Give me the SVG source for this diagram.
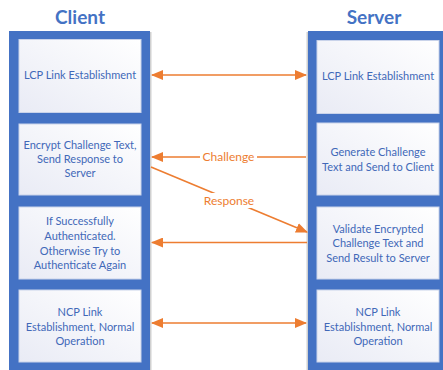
<svg xmlns="http://www.w3.org/2000/svg" width="443" height="370" viewBox="0 0 443 370">
<defs>
<linearGradient id="g" x1="1" y1="0" x2="0" y2="1">
<stop offset="0" stop-color="#FFFFFF"/>
<stop offset="1" stop-color="#E9EBF5"/>
</linearGradient>
<marker id="ah" viewBox="0 0 12 10" refX="11" refY="5" markerWidth="12" markerHeight="10" markerUnits="userSpaceOnUse" orient="auto-start-reverse">
<path d="M0,0 L12,5 L0,10 z" fill="#ED7D31"/>
</marker>
<style>
.col{fill:#4472C4}
.shadow{fill:#D0D0D0}
.box{fill:url(#g);stroke:#C9D3EA;stroke-width:1}
.t{font-family:Lato,"Liberation Sans",sans-serif;font-size:11px;fill:#4168B8;text-anchor:middle}
.h{font-family:Lato,"Liberation Sans",sans-serif;font-size:19px;font-weight:bold;fill:#4472C4;text-anchor:middle}
.c{stroke:#ED7D31;stroke-width:1.6;fill:none}
.l{font-family:Lato,"Liberation Sans",sans-serif;font-size:12px;fill:#ED7D31;text-anchor:middle}
</style>
</defs>
<rect width="443" height="370" fill="#FFFFFF"/>
<g id="client">
<text class="h" x="80" y="24">Client</text>
<rect class="shadow" x="150" y="32" width="1.5" height="338"/>
<rect class="col" x="9" y="31" width="141" height="339"/>
</g>
<g id="server">
<text class="h" x="374" y="24">Server</text>
<rect class="shadow" x="306.5" y="32" width="1.5" height="338"/>
<rect class="col" x="308" y="31" width="135" height="339"/>
</g>
<g id="c1"><rect class="box" x="19" y="39.5" width="122" height="73"/>
<text class="t" x="80" y="79">LCP Link Establishment</text></g>
<g id="c2"><rect class="box" x="19" y="124" width="122" height="71"/>
<text class="t" x="80" y="149">Encrypt Challenge Text,</text>
<text class="t" x="80" y="163">Send Response to</text>
<text class="t" x="80" y="177">Server</text></g>
<g id="c3"><rect class="box" x="19" y="207" width="122" height="72"/>
<text class="t" x="80" y="225">If Successfully</text>
<text class="t" x="80" y="240">Authenticated.</text>
<text class="t" x="80" y="254.5">Otherwise Try to</text>
<text class="t" x="80" y="268.5">Authenticate Again</text></g>
<g id="c4"><rect class="box" x="19" y="290" width="122" height="72"/>
<text class="t" x="80" y="316">NCP Link</text>
<text class="t" x="80" y="330.5">Establishment, Normal</text>
<text class="t" x="80" y="345">Operation</text></g>
<g id="s1"><rect class="box" x="317" y="40.5" width="122" height="73"/>
<text class="t" x="378" y="79.5">LCP Link Establishment</text></g>
<g id="s2"><rect class="box" x="317" y="123" width="122" height="72"/>
<text class="t" x="378" y="156">Generate Challenge</text>
<text class="t" x="378" y="170.5">Text and Send to Client</text></g>
<g id="s3"><rect class="box" x="317" y="207" width="122" height="72"/>
<text class="t" x="378" y="232.5">Validate Encrypted</text>
<text class="t" x="378" y="247">Challenge Text and</text>
<text class="t" x="378" y="261.5">Send Result to Server</text></g>
<g id="s4"><rect class="box" x="317" y="290" width="122" height="72"/>
<text class="t" x="378" y="316">NCP Link</text>
<text class="t" x="378" y="330.5">Establishment, Normal</text>
<text class="t" x="378" y="345">Operation</text></g>
<g id="connectors">
<line class="c" x1="152" y1="75" x2="306" y2="75" marker-start="url(#ah)" marker-end="url(#ah)"/>
<line class="c" x1="306" y1="157" x2="152" y2="157" marker-end="url(#ah)"/>
<rect x="200" y="149" width="57" height="15" fill="#FFFFFF"/>
<text class="l" x="228.5" y="161">Challenge</text>
<line class="c" x1="151" y1="167" x2="307" y2="232" marker-end="url(#ah)"/>
<rect x="202" y="193" width="54" height="15" fill="#FFFFFF"/>
<text class="l" x="229" y="205">Response</text>
<line class="c" x1="307" y1="242.5" x2="152" y2="242.5" marker-end="url(#ah)"/>
<line class="c" x1="152" y1="323" x2="306" y2="323" marker-start="url(#ah)" marker-end="url(#ah)"/>
</g>
</svg>
